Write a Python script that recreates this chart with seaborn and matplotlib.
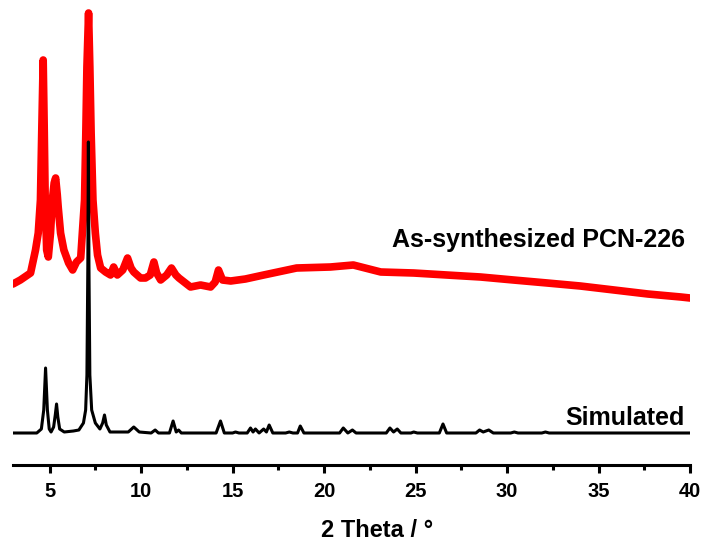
import matplotlib
matplotlib.use("Agg")
import matplotlib.pyplot as plt
from matplotlib.ticker import MultipleLocator
import seaborn as sns
import pandas as pd

# ---- data (intensity in arbitrary units) ----
as_synth_theta = [3.0, 3.4, 3.96, 4.23, 4.38, 4.50, 4.57, 4.65, 4.71, 4.76, 4.84,
                  4.93, 5.05, 5.15, 5.25, 5.33, 5.42, 5.47, 5.6, 5.78, 6.04, 6.26,
                  6.47, 6.7, 6.79, 6.91, 6.98, 7.04, 7.13, 7.2, 7.27, 7.37, 7.5,
                  7.62, 7.79, 8.06, 8.33, 8.5, 8.7, 9.0, 9.26, 9.45, 9.6, 9.97,
                  10.24, 10.5, 10.7, 10.85, 11.07, 11.4, 11.66, 11.9, 12.07, 12.7,
                  13.25, 13.8, 14.05, 14.23, 14.45, 14.9, 15.7, 16.7, 18.5, 20.35,
                  21.6, 23.1, 24.9, 26.7, 28.55, 30.35, 32.2, 34.0, 35.85, 37.7,
                  39.5, 40.0]
as_synth_int = [181, 185, 192, 215, 232, 265, 332, 405, 332, 265, 215,
                208, 232, 265, 282, 287, 270, 258, 232, 215, 202, 195,
                203, 207, 232, 265, 332, 398, 452, 398, 332, 265, 232,
                210, 197, 193, 190, 198, 190, 195, 207, 197, 193, 187,
                187, 190, 203, 192, 185, 190, 197, 190, 187, 178,
                180, 178, 183, 195, 185, 184, 186, 190, 197, 198,
                200, 193, 192, 190, 188, 185, 182, 179, 175, 171,
                168, 167]

sim_theta = [3.0, 4.3, 4.55, 4.68, 4.78, 4.88, 4.98, 5.08, 5.22, 5.31, 5.38,
             5.45, 5.55, 5.8, 6.3, 6.6, 6.85, 6.97, 7.04, 7.09, 7.12, 7.15,
             7.2, 7.3, 7.5, 7.75, 7.9, 8.0, 8.1, 8.3, 9.3, 9.6, 9.9, 10.55,
             10.77, 10.95, 11.55, 11.75, 11.92, 12.05, 12.2, 14.1, 14.34, 14.55,
             15.0, 15.16, 15.35, 15.8, 15.98, 16.12, 16.25, 16.45, 16.7, 16.85,
             17.0, 17.2, 17.9, 18.1, 18.3, 18.55, 18.7, 18.9, 19.3, 19.4, 19.55,
             20.85, 21.05, 21.3, 21.55, 21.75, 23.4, 23.6, 23.8, 24.0, 24.2,
             24.75, 24.9, 25.1, 26.3, 26.5, 26.7, 28.3, 28.5, 28.7, 29.0,
             29.25, 30.2, 30.4, 30.6, 31.9, 32.1, 32.3, 40.0]
sim_int = [32, 32, 36, 55, 97, 55, 36, 33, 38, 50, 61,
           48, 36, 33, 34, 35, 42, 55, 90, 200, 323, 200,
           90, 55, 42, 36, 42, 50, 40, 33, 33, 38, 33, 32,
           35, 32, 32, 44, 33, 35, 32, 32, 44, 32,
           32, 33, 32, 32, 37, 33, 36, 32, 36, 33,
           40, 32, 32, 33, 32, 32, 39, 32, 32, 32, 32,
           32, 37, 32, 35, 32, 32, 37, 33, 36, 32,
           32, 33, 32, 32, 41, 32, 32, 35, 33, 35,
           32, 32, 33, 32, 32, 33, 32, 32]

label_as = "As-synthesized PCN-226"
label_sim = "Simulated"
x_ticks = [5, 10, 15, 20, 25, 30, 35, 40]

df_as = pd.DataFrame({"theta": as_synth_theta, "intensity": as_synth_int})
df_sim = pd.DataFrame({"theta": sim_theta, "intensity": sim_int})

sns.set_style("white")
plt.rcParams["font.family"] = ["Liberation Sans", "DejaVu Sans"]
plt.rcParams["font.weight"] = "bold"
plt.rcParams["text.color"] = "black"
plt.rcParams["axes.labelcolor"] = "black"
plt.rcParams["xtick.color"] = "black"

fig = plt.figure(figsize=(7.06, 5.46), dpi=100)
ax = fig.add_axes([13 / 706, (546 - 465) / 546, (690 - 13) / 706, 460 / 546])

sns.lineplot(data=df_as, x="theta", y="intensity", ax=ax, color="#ff0000",
             linewidth=5.5, estimator=None, sort=False)
sns.lineplot(data=df_sim, x="theta", y="intensity", ax=ax, color="black",
             linewidth=2.2, estimator=None, sort=False)

ax.set_xlim(3, 40)
ax.set_ylim(0, 460)
ax.set_yticks([])
ax.set_ylabel("")
for s in ["top", "right", "left"]:
    ax.spines[s].set_visible(False)
ax.spines["bottom"].set_linewidth(2.2)
ax.spines["bottom"].set_color("black")

ax.set_xticks(x_ticks)
ax.set_xticklabels([str(t) for t in x_ticks])
ax.xaxis.set_minor_locator(MultipleLocator(2.5))
ax.tick_params(axis="x", which="major", direction="out", length=6, width=2.2,
               pad=6, labelsize=14.5, colors="black", bottom=True)
ax.tick_params(axis="x", which="minor", direction="out", length=3.5, width=2.2,
               bottom=True, colors="black")
for lbl in ax.get_xticklabels():
    lbl.set_fontweight("bold")
    lbl.set_color("black")

ax.set_xlabel("2 Theta / °", fontsize=17, fontweight="bold", color="black")
ax.xaxis.set_label_coords(0.538, -0.118)

ax.text(39.7, 465 - 247, label_as, ha="right", va="baseline",
        fontsize=18, fontweight="bold", color="black")
ax.text(39.7, 465 - 425, label_sim, ha="right", va="baseline",
        fontsize=18, fontweight="bold", color="black")

fig.savefig("out.png", dpi=100)
